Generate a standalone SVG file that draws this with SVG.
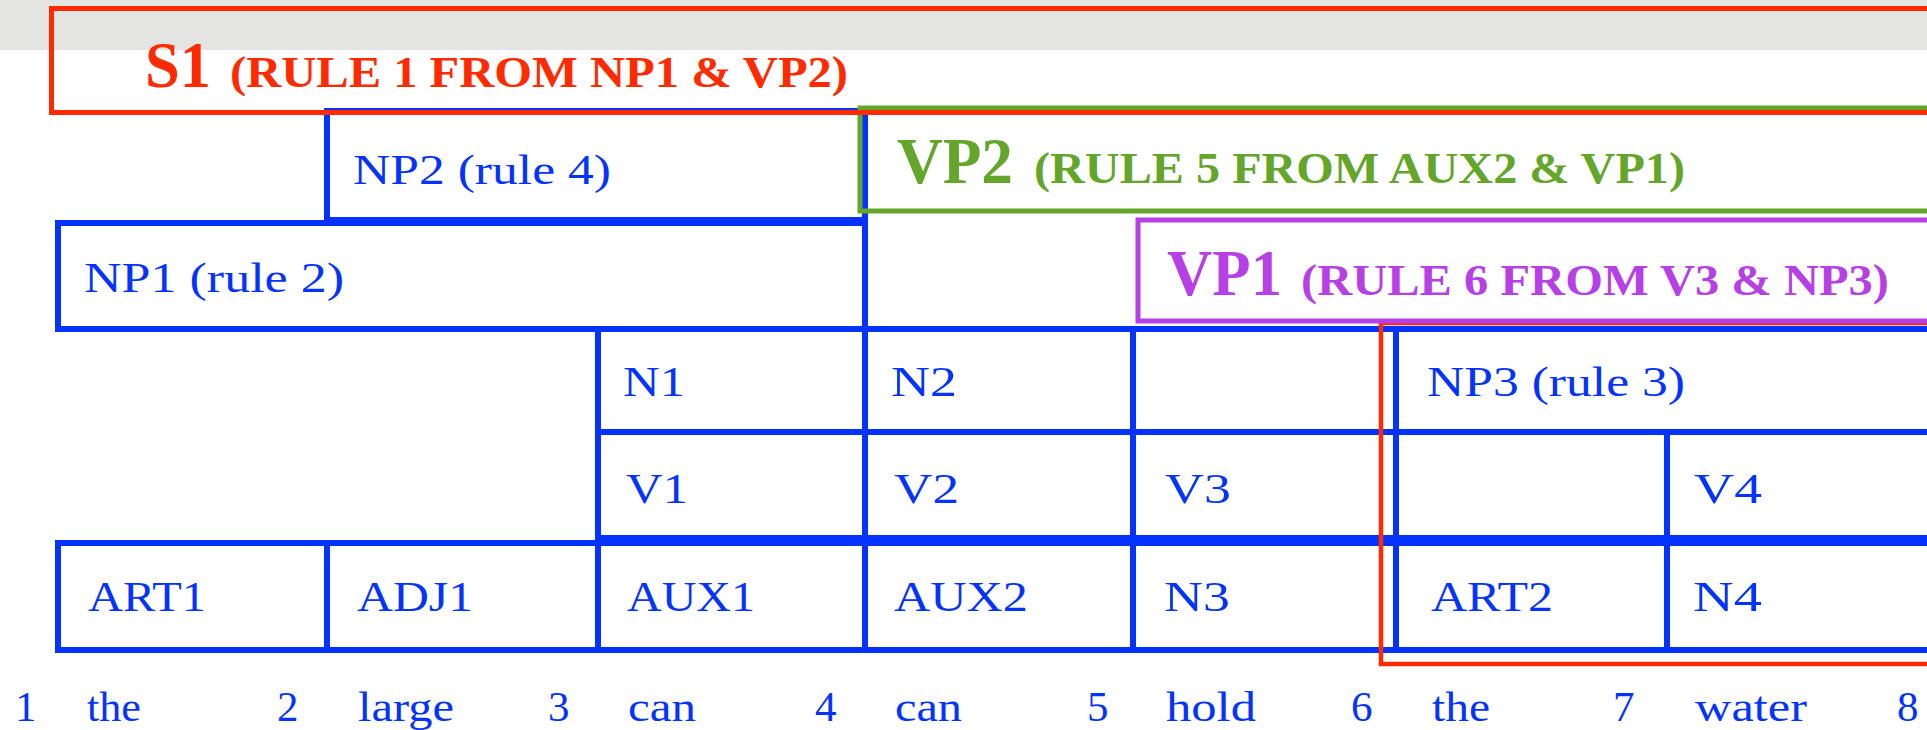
<svg xmlns="http://www.w3.org/2000/svg" width="1927" height="730" viewBox="0 0 1927 730">
<style>
.cell{fill:none;stroke:#0433ff;stroke-width:6}
.lbl{font-family:"Liberation Serif",serif;font-size:43px;fill:#0433ff}
.big{font-family:"Liberation Serif",serif;font-weight:bold;font-size:66px}
.sub{font-family:"Liberation Serif",serif;font-weight:bold;font-size:44px}
.red{fill:#ff2a00}
.grn{fill:#63a62a}
.pur{fill:#b73fe6}
</style>
<rect x="0" y="0" width="1927" height="730" fill="#ffffff"/>
<rect x="0" y="0" width="1927" height="50" fill="#e4e4e2"/>

<g id="NP2"><rect class="cell" x="327" y="111" width="538" height="109"/><text class="lbl" x="353" y="184" textLength="258" lengthAdjust="spacingAndGlyphs">NP2 (rule 4)</text></g>
<g id="NP1"><rect class="cell" x="58" y="223" width="807" height="106"/><text class="lbl" x="84" y="292" textLength="260" lengthAdjust="spacingAndGlyphs">NP1 (rule 2)</text></g>

<g id="N1"><rect class="cell" x="598" y="329" width="267" height="103"/><text class="lbl" x="623" y="396" textLength="62" lengthAdjust="spacingAndGlyphs">N1</text></g>
<g id="N2"><rect class="cell" x="865" y="329" width="268" height="103"/><text class="lbl" x="891" y="396" textLength="66" lengthAdjust="spacingAndGlyphs">N2</text></g>
<g id="Nempty"><rect class="cell" x="1133" y="329" width="263" height="103"/></g>
<g id="NP3"><rect class="cell" x="1396" y="329" width="540" height="103"/><text class="lbl" x="1427" y="396" textLength="258" lengthAdjust="spacingAndGlyphs">NP3 (rule 3)</text></g>

<g id="V1"><rect class="cell" x="598" y="432" width="267" height="106"/><text class="lbl" x="626" y="503" textLength="62" lengthAdjust="spacingAndGlyphs">V1</text></g>
<g id="V2"><rect class="cell" x="865" y="432" width="268" height="106"/><text class="lbl" x="894" y="503" textLength="65" lengthAdjust="spacingAndGlyphs">V2</text></g>
<g id="V3"><rect class="cell" x="1133" y="432" width="263" height="106"/><text class="lbl" x="1165" y="503" textLength="66" lengthAdjust="spacingAndGlyphs">V3</text></g>
<g id="Vempty"><rect class="cell" x="1396" y="432" width="271" height="106"/></g>
<g id="V4"><rect class="cell" x="1667" y="432" width="269" height="106"/><text class="lbl" x="1694" y="503" textLength="68" lengthAdjust="spacingAndGlyphs">V4</text></g>

<g id="ART1"><rect class="cell" x="58" y="543" width="269" height="107"/><text class="lbl" x="88" y="611" textLength="118" lengthAdjust="spacingAndGlyphs">ART1</text></g>
<g id="ADJ1"><rect class="cell" x="327" y="543" width="271" height="107"/><text class="lbl" x="357" y="611" textLength="116" lengthAdjust="spacingAndGlyphs">ADJ1</text></g>
<g id="AUX1"><rect class="cell" x="598" y="543" width="267" height="107"/><text class="lbl" x="627" y="611" textLength="128" lengthAdjust="spacingAndGlyphs">AUX1</text></g>
<g id="AUX2"><rect class="cell" x="865" y="543" width="268" height="107"/><text class="lbl" x="894" y="611" textLength="134" lengthAdjust="spacingAndGlyphs">AUX2</text></g>
<g id="N3"><rect class="cell" x="1133" y="543" width="263" height="107"/><text class="lbl" x="1164" y="611" textLength="66" lengthAdjust="spacingAndGlyphs">N3</text></g>
<g id="ART2"><rect class="cell" x="1396" y="543" width="271" height="107"/><text class="lbl" x="1431" y="611" textLength="122" lengthAdjust="spacingAndGlyphs">ART2</text></g>
<g id="N4"><rect class="cell" x="1667" y="543" width="269" height="107"/><text class="lbl" x="1693" y="611" textLength="69" lengthAdjust="spacingAndGlyphs">N4</text></g>

<g id="NP3-span"><rect x="1381" y="323" width="560" height="341" fill="none" stroke="#ff2a00" stroke-width="4.5"/></g>

<g id="VP2"><rect x="860" y="108" width="1080" height="103" fill="none" stroke="#63a62a" stroke-width="5"/>
<text class="big grn" x="897" y="183" textLength="116" lengthAdjust="spacingAndGlyphs">VP2</text>
<text class="sub grn" x="1034" y="183" textLength="651" lengthAdjust="spacingAndGlyphs">(RULE 5 FROM AUX2 &amp; VP1)</text></g>

<g id="VP1"><rect x="1138" y="220" width="800" height="101" fill="none" stroke="#b73fe6" stroke-width="5"/>
<text class="big pur" x="1167" y="295" textLength="115" lengthAdjust="spacingAndGlyphs">VP1</text>
<text class="sub pur" x="1301" y="295" textLength="588" lengthAdjust="spacingAndGlyphs">(RULE 6 FROM V3 &amp; NP3)</text></g>

<g id="S1"><rect x="51.5" y="8.5" width="1890" height="104" fill="none" stroke="#ff2a00" stroke-width="5"/>
<text class="big red" x="145" y="87" textLength="66" lengthAdjust="spacingAndGlyphs">S1</text>
<text class="sub red" x="230" y="87" textLength="618" lengthAdjust="spacingAndGlyphs">(RULE 1 FROM NP1 &amp; VP2)</text></g>

<g id="words" class="lbl">
<text x="15" y="721">1</text>
<text x="87" y="721" textLength="54" lengthAdjust="spacingAndGlyphs">the</text>
<text x="277" y="721">2</text>
<text x="358" y="721" textLength="96" lengthAdjust="spacingAndGlyphs">large</text>
<text x="548" y="721">3</text>
<text x="628" y="721" textLength="68" lengthAdjust="spacingAndGlyphs">can</text>
<text x="815" y="721">4</text>
<text x="895" y="721" textLength="67" lengthAdjust="spacingAndGlyphs">can</text>
<text x="1087" y="721">5</text>
<text x="1166" y="721" textLength="90" lengthAdjust="spacingAndGlyphs">hold</text>
<text x="1351" y="721">6</text>
<text x="1432" y="721" textLength="58" lengthAdjust="spacingAndGlyphs">the</text>
<text x="1613" y="721">7</text>
<text x="1695" y="721" textLength="112" lengthAdjust="spacingAndGlyphs">water</text>
<text x="1897" y="721">8</text>
</g>
</svg>
